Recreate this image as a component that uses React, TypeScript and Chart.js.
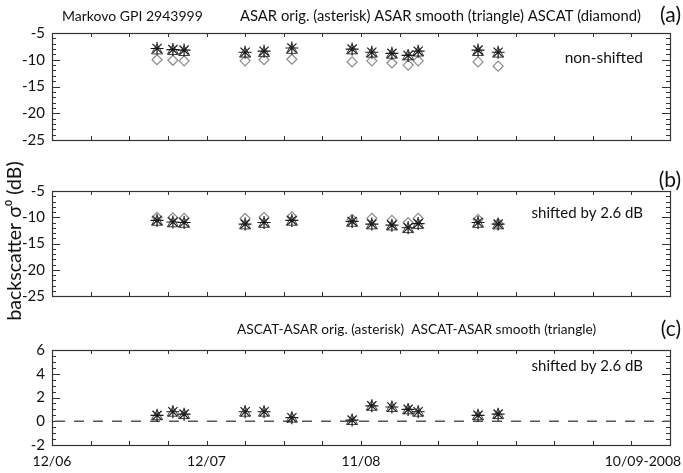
import { useEffect, useRef } from 'react';
import { Chart, registerables } from 'chart.js';

Chart.register(...registerables);

// Observation times on the shared time axis (axis units, 0 = 12/06)
const obsTime = [2.72, 3.13, 3.42, 5.0, 5.49, 6.21, 7.77, 8.28, 8.8, 9.22, 9.48, 11.03, 11.55];

// (a) non-shifted backscatter, dB
const asarOrig = [-7.9, -8.1, -8.2, -8.6, -8.4, -7.8, -8.0, -8.6, -8.8, -9.2, -8.4, -8.2, -8.6];
const asarSmooth = [-8.3, -8.4, -8.6, -8.9, -8.8, -8.2, -8.3, -8.9, -9.1, -9.4, -8.7, -8.6, -8.9];
const ascat = [-10.0, -10.1, -10.2, -10.2, -10.0, -9.9, -10.4, -10.2, -10.6, -11.0, -10.2, -10.4, -11.2];

// (b) ASAR shifted by 2.6 dB, dB
const asarOrigShifted = [-10.6, -10.9, -11.0, -11.3, -11.0, -10.6, -10.8, -11.3, -11.5, -12.0, -11.2, -11.0, -11.3];
const asarSmoothShifted = [-10.9, -11.2, -11.3, -11.6, -11.3, -10.9, -11.1, -11.6, -11.8, -12.3, -11.5, -11.3, -11.6];

// (c) ASCAT minus shifted ASAR, dB
const diffOrig = [0.5, 0.8, 0.6, 0.8, 0.8, 0.3, 0.1, 1.3, 1.2, 1.0, 0.8, 0.5, 0.6];
const diffSmooth = [0.4, 0.7, 0.5, 0.7, 0.7, 0.2, 0.0, 1.2, 1.1, 0.9, 0.7, 0.4, 0.5];

// Time axis
const X_MIN = 0;
const X_MAX = 16;
const xTickPos = [0, 4, 8, 15.3];
const xTickLabels = ['12/06', '12/07', '11/08', '10/09-2008'];

const FONT = 'Lato, "Open Sans", "Liberation Sans", sans-serif';
const INK = '#111';

type MarkerKind = 'asterisk' | 'triangle' | 'diamond';

const markerStyle: Record<MarkerKind, any> = {
  asterisk: { pointStyle: 'star', pointRadius: 6.5, borderColor: '#1a1a1a', borderWidth: 1.2 },
  triangle: { pointStyle: 'triangle', pointRadius: 6.5, borderColor: '#444', borderWidth: 1 },
  diamond: { pointStyle: 'rectRot', pointRadius: 5, borderColor: '#8a8a8a', borderWidth: 1.2 },
};

interface Note {
  text: string;
  x: number;
  y: number;
  size: number;
  align: CanvasTextAlign;
  rotate?: boolean;
}

interface Panel {
  series: { label: string; kind: MarkerKind; values: number[] }[];
  yMin: number;
  yMax: number;
  yStep: number;
  yMinor: number;
  yMajor: number;
  padTop: number;
  padBottom: number;
  showX: boolean;
  zeroLine: boolean;
  notes: Note[];
}

const panels: Panel[] = [
  {
    series: [
      { label: 'ASAR orig.', kind: 'asterisk', values: asarOrig },
      { label: 'ASAR smooth', kind: 'triangle', values: asarSmooth },
      { label: 'ASCAT', kind: 'diamond', values: ascat },
    ],
    yMin: -25, yMax: -5, yStep: 5, yMinor: 1, yMajor: 5,
    padTop: 33, padBottom: 333, showX: false, zeroLine: false,
    notes: [
      { text: 'Markovo GPI 2943999', x: 62, y: 16, size: 14, align: 'left' },
      { text: 'ASAR orig. (asterisk) ASAR smooth (triangle) ASCAT (diamond)', x: 240, y: 16, size: 14.8, align: 'left' },
      { text: '(a)', x: 681, y: 15, size: 21, align: 'right' },
      { text: 'non-shifted', x: 643, y: 58, size: 15.5, align: 'right' },
      { text: 'backscatter \u03c3\u2070 (dB)', x: 15, y: 241, size: 19.5, align: 'center', rotate: true },
    ],
  },
  {
    series: [
      { label: 'ASAR orig. shifted', kind: 'asterisk', values: asarOrigShifted },
      { label: 'ASAR smooth shifted', kind: 'triangle', values: asarSmoothShifted },
      { label: 'ASCAT', kind: 'diamond', values: ascat },
    ],
    yMin: -25, yMax: -5, yStep: 5, yMinor: 1, yMajor: 5,
    padTop: 191, padBottom: 177, showX: false, zeroLine: false,
    notes: [
      { text: '(b)', x: 681, y: 180, size: 21, align: 'right' },
      { text: 'shifted by 2.6 dB', x: 643, y: 213, size: 15, align: 'right' },
    ],
  },
  {
    series: [
      { label: 'ASCAT-ASAR orig.', kind: 'asterisk', values: diffOrig },
      { label: 'ASCAT-ASAR smooth', kind: 'triangle', values: diffSmooth },
    ],
    yMin: -2, yMax: 6, yStep: 2, yMinor: 0.5, yMajor: 2,
    padTop: 350, padBottom: 0, showX: true, zeroLine: true,
    notes: [
      { text: 'ASCAT-ASAR orig. (asterisk)  ASCAT-ASAR smooth (triangle)', x: 237, y: 330, size: 13.7, align: 'left' },
      { text: '(c)', x: 681, y: 329, size: 21, align: 'right' },
      { text: 'shifted by 2.6 dB', x: 643, y: 366, size: 15, align: 'right' },
    ],
  },
];

const toPoints = (values: number[]) => obsTime.map((x, i) => ({ x, y: values[i] }));

// Box frame, inward ticks on all four sides, zero reference line and panel texts
const panelDecor = (p: Panel) => ({
  id: 'panelDecor',
  beforeDatasetsDraw(chart: any) {
    const { ctx, chartArea: a, scales } = chart;
    const xs = scales.x;
    const ys = scales.y;
    ctx.save();
    ctx.strokeStyle = '#333';
    ctx.lineWidth = 1;
    const seg = (x1: number, y1: number, x2: number, y2: number) => {
      ctx.beginPath();
      ctx.moveTo(x1, y1);
      ctx.lineTo(x2, y2);
      ctx.stroke();
    };
    const steps = Math.round((p.yMax - p.yMin) / p.yMinor);
    for (let k = 0; k <= steps; k++) {
      const v = p.yMin + k * p.yMinor;
      const py = Math.round(ys.getPixelForValue(v)) + 0.5;
      const major = Math.abs(v / p.yMajor - Math.round(v / p.yMajor)) < 1e-6;
      const len = major ? 8 : 4;
      seg(a.left, py, a.left + len, py);
      seg(a.right, py, a.right - len, py);
    }
    for (let v = X_MIN; v <= X_MAX; v++) {
      const px = Math.round(xs.getPixelForValue(v)) + 0.5;
      seg(px, a.top, px, a.top + 4);
      seg(px, a.bottom, px, a.bottom - 4);
    }
    ctx.lineWidth = 1.2;
    ctx.strokeRect(Math.round(a.left) + 0.5, Math.round(a.top) + 0.5, Math.round(a.width), Math.round(a.height));
    if (p.zeroLine) {
      const py = ys.getPixelForValue(0);
      ctx.strokeStyle = '#555';
      ctx.lineWidth = 1.3;
      ctx.setLineDash([10, 9]);
      seg(a.left + 3, py, a.right, py);
      ctx.setLineDash([]);
    }
    ctx.restore();
  },
  afterDraw(chart: any) {
    const { ctx } = chart;
    ctx.save();
    ctx.fillStyle = INK;
    ctx.textBaseline = 'middle';
    for (const n of p.notes) {
      ctx.font = `${n.size}px ${FONT}`;
      ctx.textAlign = n.align;
      if (n.rotate) {
        ctx.save();
        ctx.translate(n.x, n.y);
        ctx.rotate(-Math.PI / 2);
        ctx.fillText(n.text, 0, 0);
        ctx.restore();
      } else {
        ctx.fillText(n.text, n.x, n.y);
      }
    }
    ctx.restore();
  },
});

function makeConfig(p: Panel): any {
  return {
    type: 'scatter',
    data: {
      datasets: p.series.map((s) => ({
        label: s.label,
        data: toPoints(s.values),
        showLine: false,
        backgroundColor: 'rgba(0,0,0,0)',
        ...markerStyle[s.kind],
      })),
    },
    options: {
      responsive: false,
      animation: false,
      devicePixelRatio: 1,
      layout: { padding: { top: p.padTop, bottom: p.padBottom, left: 0, right: 13 } },
      plugins: { legend: { display: false }, tooltip: { enabled: false }, title: { display: false } },
      scales: {
        x: {
          type: 'linear',
          min: X_MIN,
          max: X_MAX,
          display: p.showX,
          grid: { display: false, drawTicks: false },
          border: { display: false },
          afterBuildTicks: (scale: any) => {
            scale.ticks = xTickPos.map((value) => ({ value }));
          },
          ticks: {
            autoSkip: false,
            maxRotation: 0,
            padding: 8,
            color: INK,
            font: { family: FONT, size: 14 },
            callback: (_v: any, i: number) => xTickLabels[i],
          },
          afterFit: (scale: any) => {
            if (p.showX) scale.height = 28;
            scale.paddingLeft = 0;
            scale.paddingRight = 0;
          },
        },
        y: {
          type: 'linear',
          min: p.yMin,
          max: p.yMax,
          grid: { display: false, drawTicks: false },
          border: { display: false },
          ticks: {
            stepSize: p.yStep,
            autoSkip: false,
            padding: 7,
            color: INK,
            font: { family: FONT, size: 15 },
          },
          afterFit: (scale: any) => {
            scale.width = 52;
            scale.paddingTop = 0;
            scale.paddingBottom = 0;
          },
        },
      },
    },
    plugins: [panelDecor(p)],
  };
}

export default function App() {
  const refA = useRef<HTMLCanvasElement>(null);
  const refB = useRef<HTMLCanvasElement>(null);
  const refC = useRef<HTMLCanvasElement>(null);
  const refs = [refA, refB, refC];

  useEffect(() => {
    const charts = panels.map((p, i) => new Chart(refs[i].current as HTMLCanvasElement, makeConfig(p)));
    return () => charts.forEach((c) => c.destroy());
  }, []);

  return (
    <div style={{ position: 'absolute', left: 0, top: 0, width: 683, height: 473, background: '#fff' }}>
      {refs.map((r, i) => (
        <canvas
          key={i}
          ref={r}
          width={683}
          height={473}
          style={{ position: 'absolute', left: 0, top: 0, width: 683, height: 473 }}
        />
      ))}
    </div>
  );
}
